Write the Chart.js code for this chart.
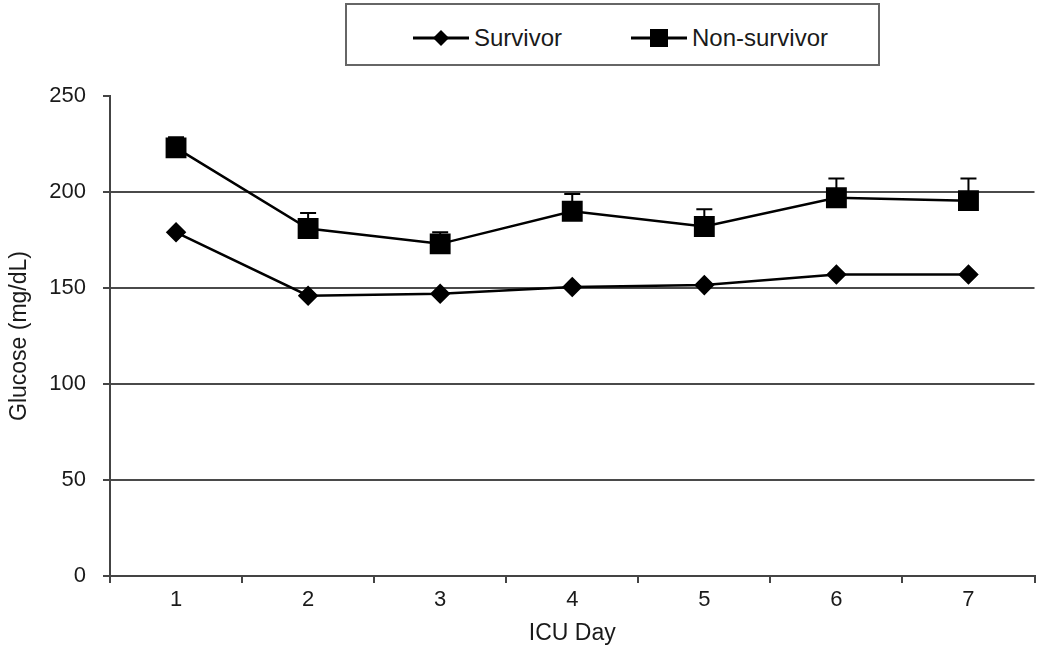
<!DOCTYPE html>
<html>
<head>
<meta charset="utf-8">
<title>Glucose by ICU Day</title>
<script src="https://cdn.jsdelivr.net/npm/chart.js@4"></script>
<style>
  html, body { margin: 0; padding: 0; background: #fff; }
  #wrap { position: relative; width: 1050px; height: 660px; font-family: "Liberation Sans", Arial, sans-serif; color: #1a1a1a; }
  #legend { position: absolute; left: 345px; top: 3px; width: 531px; height: 59px; border: 2px solid #666; background: #fff; }
  .item { position: absolute; top: 18px; height: 30px; display: flex; align-items: center; font-size: 24px; }
  .item svg { margin-right: 5px; }
</style>
</head>
<body>
<div id="wrap">
  <canvas id="chart" width="1050" height="660"></canvas>
  <!-- legend box, drawn in html -->
  <div id="legend">
    <div class="item" style="left: 66px;">
      <svg width="56" height="20"><line x1="0" y1="10" x2="56" y2="10" stroke="#000" stroke-width="3"/><polygon points="28,2 36,10 28,18 20,10" fill="#000"/></svg>Survivor
    </div>
    <div class="item" style="left: 284px;">
      <svg width="56" height="20"><line x1="0" y1="10" x2="56" y2="10" stroke="#000" stroke-width="3"/><rect x="19" y="1" width="18" height="18" fill="#000"/></svg>Non-survivor
    </div>
  </div>
</div>
<script>
const days = ["1", "2", "3", "4", "5", "6", "7"];
const survivor = [179, 146, 147, 150.5, 151.5, 157, 157];
const nonSurvivor = [223, 181, 173, 190, 182, 197, 195.5];
const nonSurvivorErr = [5.5, 8, 6, 9, 9, 10, 11.5];
const yTicks = [0, 50, 100, 150, 200, 250];

const FONT = "'Liberation Sans', Arial, sans-serif";

// error bars (upper only), drawn under the markers
const errorBars = {
  id: "errorBars",
  beforeDatasetsDraw(chart) {
    const ctx = chart.ctx;
    const y = chart.scales.y;
    chart.data.datasets.forEach((ds, i) => {
      if (!ds.errors) return;
      const meta = chart.getDatasetMeta(i);
      meta.data.forEach((pt, j) => {
        const top = y.getPixelForValue(ds.data[j] + ds.errors[j]);
        ctx.save();
        ctx.strokeStyle = "#000";
        ctx.lineWidth = 2;
        ctx.beginPath();
        ctx.moveTo(pt.x, pt.y);
        ctx.lineTo(pt.x, top);
        ctx.moveTo(pt.x - 8, top);
        ctx.lineTo(pt.x + 8, top);
        ctx.stroke();
        ctx.restore();
      });
    });
  }
};

new Chart(document.getElementById("chart"), {
  type: "line",
  data: {
    labels: days,
    datasets: [
      {
        label: "Survivor",
        data: survivor,
        borderColor: "#000",
        backgroundColor: "#000",
        borderWidth: 2.5,
        pointStyle: "rectRot",
        pointRadius: 8.5,
        tension: 0
      },
      {
        label: "Non-survivor",
        data: nonSurvivor,
        errors: nonSurvivorErr,
        borderColor: "#000",
        backgroundColor: "#000",
        borderWidth: 2.5,
        pointStyle: "rect",
        pointRadius: 13,
        tension: 0
      }
    ]
  },
  options: {
    responsive: false,
    animation: false,
    layout: { padding: { top: 96, right: 10, left: 0, bottom: 0 } },
    plugins: {
      legend: { display: false },
      tooltip: { enabled: false }
    },
    scales: {
      x: {
        offset: true,
        afterFit: (scale) => { scale.height = 84; },
        grid: { offset: true, drawOnChartArea: false, drawTicks: true, tickLength: 7, color: "#444", lineWidth: 2 },
        border: { color: "#444", width: 2 },
        ticks: { color: "#1a1a1a", font: { family: FONT, size: 22 }, padding: 4 },
        title: { display: true, text: "ICU Day", color: "#1a1a1a", font: { family: FONT, size: 23 }, padding: { top: 0, bottom: 13 } }
      },
      y: {
        min: 0,
        max: 250,
        afterFit: (scale) => { scale.width = 110; },
        afterBuildTicks: (scale) => { scale.ticks = yTicks.map(v => ({ value: v })); },
        grid: {
          color: (c) => c.tick && c.tick.value === 250 ? "rgba(0,0,0,0)" : "#4a4a4a",
          tickColor: "#444",
          lineWidth: 2,
          tickLength: 7
        },
        border: { color: "#444", width: 2 },
        ticks: { color: "#1a1a1a", font: { family: FONT, size: 22 }, padding: 17 },
        title: { display: true, text: "Glucose (mg/dL)", color: "#1a1a1a", font: { family: FONT, size: 23 }, padding: { top: 6, bottom: 0 } }
      }
    }
  },
  plugins: [errorBars]
});
</script>
</body>
</html>
